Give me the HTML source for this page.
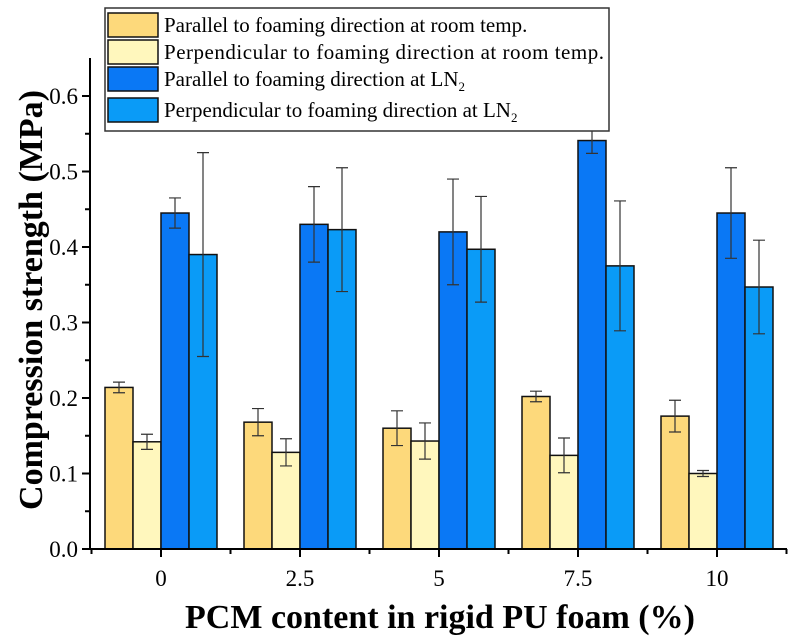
<!DOCTYPE html>
<html><head><meta charset="utf-8"><style>
body{margin:0;background:#fff}
svg{display:block}
svg text{font-family:"Liberation Serif","DejaVu Serif","Times New Roman",serif}
</style></head><body>
<svg width="796" height="644">
<g id="plot"></g>
</svg>
<script>
const categories=["0","2.5","5","7.5","10"];
const parRoom=[0.214,0.168,0.160,0.202,0.176];
const parRoomErr=[0.007,0.018,0.023,0.007,0.021];
const perpRoom=[0.142,0.128,0.143,0.124,0.100];
const perpRoomErr=[0.010,0.018,0.024,0.023,0.004];
const parLN=[0.445,0.430,0.420,0.541,0.445];
const parLNErr=[0.020,0.050,0.070,0.017,0.060];
const perpLN=[0.390,0.423,0.397,0.375,0.347];
const perpLNErr=[0.135,0.082,0.070,0.086,0.062];
const yTicks=[0,0.1,0.2,0.3,0.4,0.5,0.6];
const seriesNames=["Parallel to foaming direction at room temp.","Perpendicular to foaming direction at room temp.","Parallel to foaming direction at LN","Perpendicular to foaming direction at LN"];
const NS="http://www.w3.org/2000/svg";
const g=document.getElementById('plot');
const y0=549,pxPer=755,x0=161,step=139,bw=28;
const Y=v=>y0-v*pxPer;
const X=i=>x0+i*step;
function mk(t,a,p){const e=document.createElementNS(NS,t);for(const k in a)e.setAttribute(k,a[k]);if(t==='text')e.style.fontFamily='"Liberation Serif","DejaVu Serif",serif';(p||g).appendChild(e);return e;}
const series=[[parRoom,parRoomErr,"#fdd97b"],[perpRoom,perpRoomErr,"#fff7bd"],[parLN,parLNErr,"#0a78f5"],[perpLN,perpLNErr,"#0a9bf7"]];
series.forEach((s,si)=>{
 s[0].forEach((v,i)=>{
  const x=X(i)-2*bw+si*bw;
  const r=mk('rect',{x:x,y:Y(v),width:bw,height:Y(0)-Y(v),fill:s[2],stroke:"#111","stroke-width":1.5});
  
  
  const cx=x+bw/2,e=s[1][i];
  const eb=mk('path',{d:`M${cx},${Y(v+e)}V${Y(v-e)}M${cx-6},${Y(v+e)}h12M${cx-6},${Y(v-e)}h12`,stroke:"#333","stroke-width":1.2,fill:"none"});
  
  
 });
});
const ax=mk('path',{d:`M90,58V${y0}H787`,stroke:"#000","stroke-width":2,fill:"none"});


yTicks.forEach(t=>{
 mk('line',{x1:82,x2:90,y1:Y(t),y2:Y(t),stroke:"#000","stroke-width":2});
 if(t<0.6) mk('line',{x1:85,x2:90,y1:Y(t+0.05),y2:Y(t+0.05),stroke:"#000","stroke-width":2});
 const tx=mk('text',{x:78,y:Y(t)+8,"text-anchor":"end","font-size":23});
 tx.textContent=t.toFixed(1);
 
 
});
categories.forEach((c,i)=>{
 mk('line',{x1:X(i),x2:X(i),y1:y0,y2:y0+8,stroke:"#000","stroke-width":2});
 mk('line',{x1:X(i)+step/2,x2:X(i)+step/2,y1:y0,y2:y0+5,stroke:"#000","stroke-width":2});
 const tx=mk('text',{x:X(i),y:y0+37,"text-anchor":"middle","font-size":23});
 tx.textContent=c;
 
 
});
mk('line',{x1:X(0)-step/2,x2:X(0)-step/2,y1:y0,y2:y0+5,stroke:"#000","stroke-width":2});
const lg=mk('g',{});


mk('rect',{x:105,y:8,width:504,height:123,fill:"#fff",stroke:"#333","stroke-width":1.5},lg);
const rowsY=[25,52,79,110];
series.forEach((s,si)=>{
 mk('rect',{x:108,y:rowsY[si]-12,width:50,height:24,fill:s[2],stroke:"#111","stroke-width":1.5},lg);
 const t=mk('text',{x:164,y:rowsY[si]+7,"font-size":21,textLength:si===1?440:null},lg);
 if(si!==1)t.removeAttribute('textLength');
 t.textContent=seriesNames[si];
 if(si>=2){const sub=mk('tspan',{"font-size":13,dy:5},t);sub.textContent="2";}
 
 
});
const yl=mk('text',{x:0,y:0,transform:"translate(42,300) rotate(-90)","text-anchor":"middle","font-size":34,"font-weight":"bold"});
yl.textContent="Compression strength (MPa)";


const xl=mk('text',{x:440,y:628,"text-anchor":"middle","font-size":34,"font-weight":"bold"});
xl.textContent="PCM content in rigid PU foam (%)";


</script>
</body></html>
